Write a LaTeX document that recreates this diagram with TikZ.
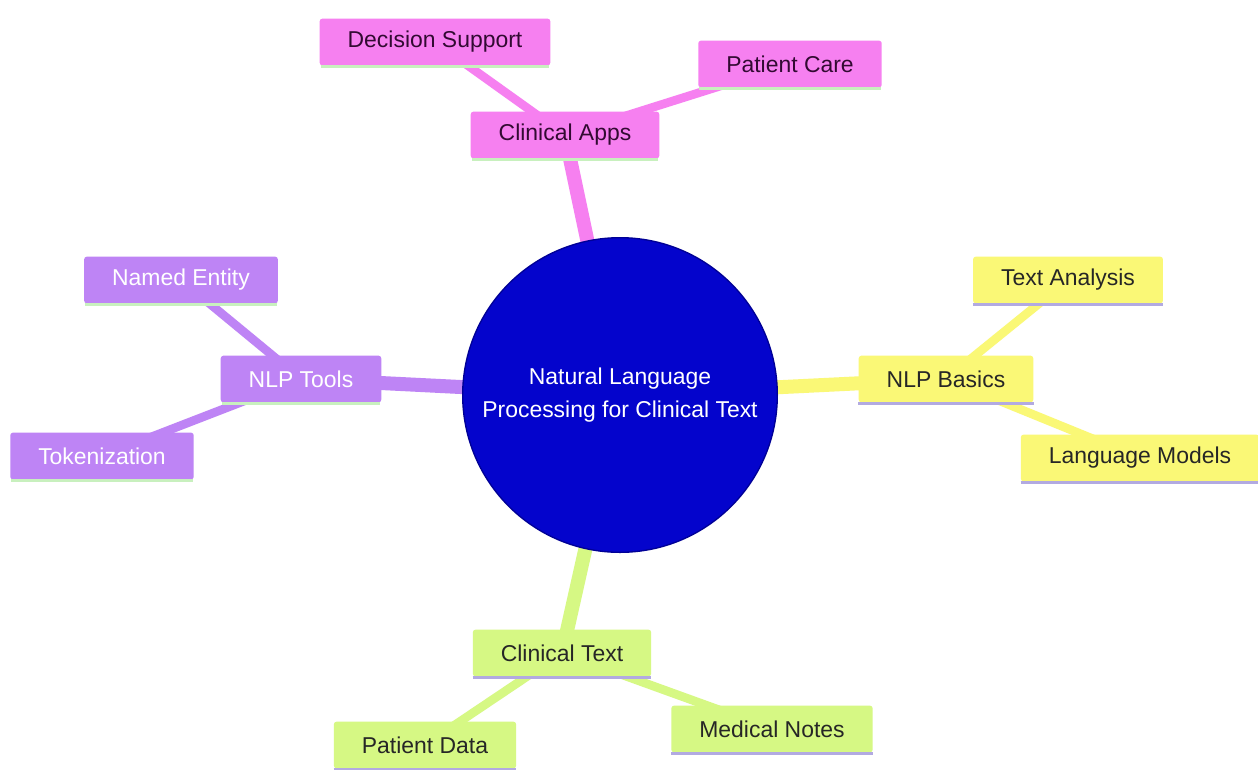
\documentclass[tikz,border=0pt]{standalone}
\usepackage{fontspec}
\setmainfont{Liberation Sans}
\usetikzlibrary{backgrounds}
\definecolor{pinkN}{RGB}{246,128,240}
\definecolor{violetN}{RGB}{190,132,245}
\definecolor{yellowN}{RGB}{250,248,118}
\definecolor{limeN}{RGB}{214,248,132}
\definecolor{greenLine}{RGB}{200,240,190}
\definecolor{lavLine}{RGB}{178,170,225}
\definecolor{rootBlue}{RGB}{4,4,204}
\begin{document}
\begin{tikzpicture}[x=0.75pt,y=-0.75pt,
  box/.style={rectangle, rounded corners=2pt, inner xsep=21pt, inner ysep=0pt,
    minimum height=35pt, font=\fontsize{17.2}{20}\selectfont},
  pinkbox/.style={box, fill=pinkN, text={rgb,255:red,50;green,10;blue,50}},
  violetbox/.style={box, fill=violetN, text=white},
  yellowbox/.style={box, fill=yellowN, text=black!85},
  limebox/.style={box, fill=limeN, text=black!85},
  root/.style={circle, fill=rootBlue, draw={rgb,255:red,0;green,0;blue,150}, line width=1pt,
    minimum size=236pt, text=white, align=center, font=\fontsize{17.2}{25}\selectfont},
  mainlink/.style={line width=10.5pt},
  sublink/.style={line width=6.5pt},
  underG/.style={line width=2.2pt, greenLine},
  underL/.style={line width=2.2pt, lavLine}
]
\useasboundingbox (0,0) rectangle (1258,769);

\node[root] (root) at (620,395) {Natural Language\\Processing for Clinical Text};

\node[pinkbox] (apps) at (565,135) {Clinical Apps};
\node[pinkbox] (ds) at (435,42) {Decision Support};
\node[pinkbox] (pc) at (790,64) {Patient Care};

\node[violetbox] (tools) at (301,379) {NLP Tools};
\node[violetbox] (ne) at (181,280) {Named Entity};
\node[violetbox] (tok) at (102,456) {Tokenization};

\node[yellowbox] (basics) at (946,379) {NLP Basics};
\node[yellowbox] (ta) at (1068,280) {Text Analysis};
\node[yellowbox] (lm) at (1140,458) {Language Models};

\node[limebox] (ct) at (562,653) {Clinical Text};
\node[limebox] (pd) at (425,745) {Patient Data};
\node[limebox] (mn) at (772,729) {Medical Notes};

\begin{pgfonlayer}{background}
  \fill[white] (0,0) rectangle (1258,769);
  \draw[mainlink, pinkN] (root.center) -- (apps.center);
  \draw[sublink, pinkN] (apps.center) -- (ds.center);
  \draw[sublink, pinkN] (apps.center) -- (pc.center);
  \draw[mainlink, violetN] (root.center) -- (tools.center);
  \draw[sublink, violetN] (tools.center) -- (ne.center);
  \draw[sublink, violetN] (tools.center) -- (tok.center);
  \draw[mainlink, yellowN] (root.center) -- (basics.center);
  \draw[sublink, yellowN] (basics.center) -- (ta.center);
  \draw[sublink, yellowN] (basics.center) -- (lm.center);
  \draw[mainlink, limeN] (root.center) -- (ct.center);
  \draw[sublink, limeN] (ct.center) -- (pd.center);
  \draw[sublink, limeN] (ct.center) -- (mn.center);
\end{pgfonlayer}

\foreach \n in {apps,ds,pc,tools,ne,tok}{
  \draw[underG] ([xshift=1pt,yshift=-1pt]\n.south west) -- ([xshift=-1pt,yshift=-1pt]\n.south east);
}
\foreach \n in {basics,ta,lm,ct,pd,mn}{
  \draw[underL] ([yshift=-1pt]\n.south west) -- ([yshift=-1pt]\n.south east);
}
\end{tikzpicture}
\end{document}
